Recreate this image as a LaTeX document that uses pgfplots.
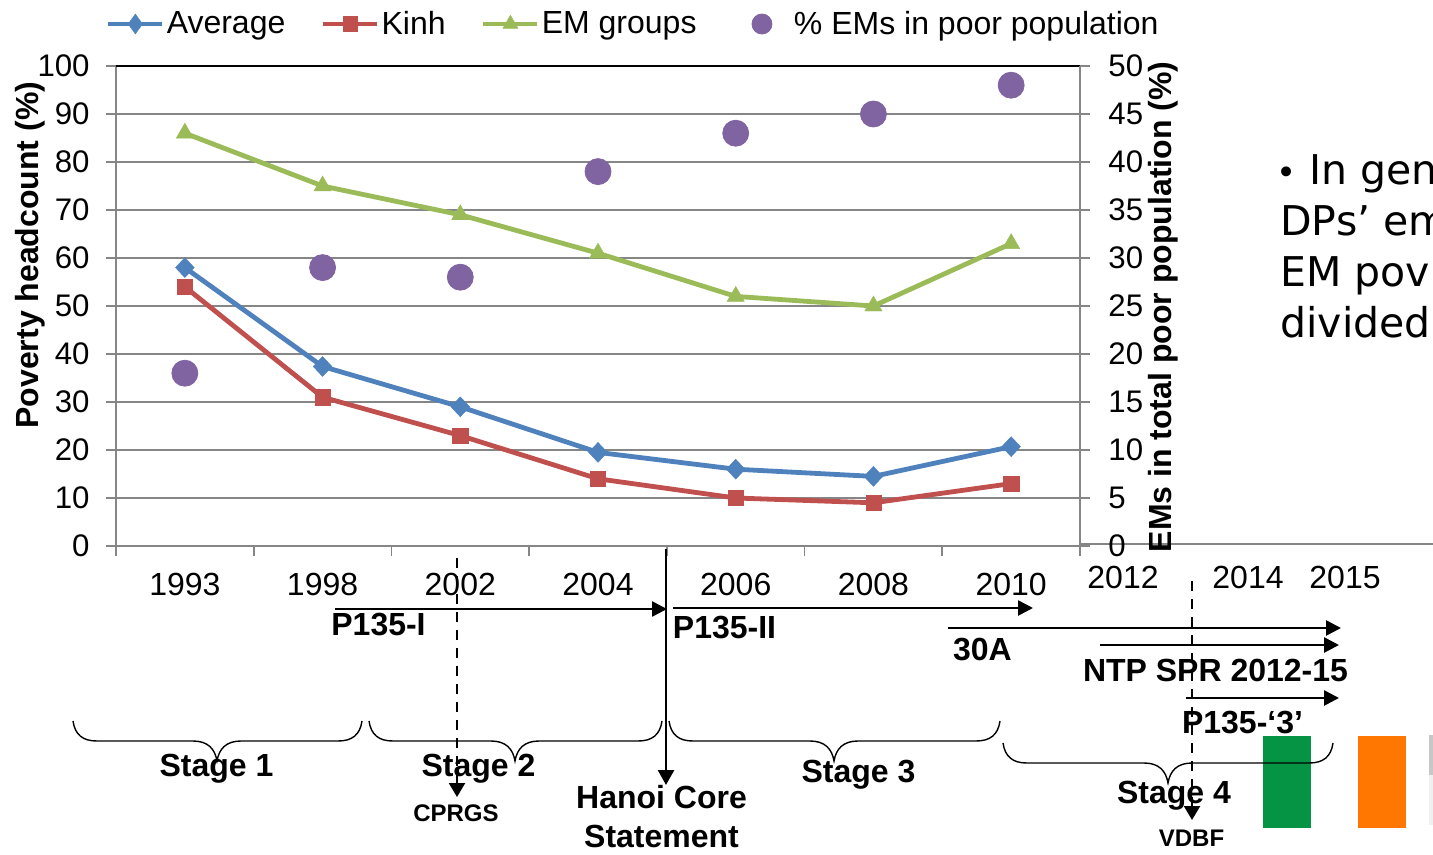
\documentclass[border=0pt]{standalone}
\usepackage{pgfplots}
\pgfplotsset{compat=1.18}
\usepackage{fontspec}
\setmainfont{Liberation Sans}
\newfontfamily\verd{DejaVu Sans}
\usetikzlibrary{arrows.meta}
\definecolor{cblue}{HTML}{4F81BD}
\definecolor{cred}{HTML}{C0504D}
\definecolor{cgreen}{HTML}{9BBB59}
\definecolor{cpurple}{HTML}{8064A2}
\definecolor{axgrey}{HTML}{868686}
\definecolor{flaggreen}{HTML}{049444}
\definecolor{flagorange}{HTML}{FF7700}
\newcommand{\fs}{\fontsize{16}{19}\selectfont}
\newcommand{\fy}{\fontsize{15.6}{18}\selectfont}
\newcommand{\fb}{\fontsize{16}{19}\selectfont\bfseries}
\pgfplotstableread{
idx avg kinh em share
0 58 54 86 18
1 37.4 31 75 29
2 29 23 69 28
3 19.5 14 61 39
4 16 10 52 43
5 14.5 9 50 45
6 20.7 13 63 48
}\povdata
\pgfplotsset{
  common/.style={
    at={(58pt,-273pt)}, anchor=south west,
    scale only axis, width=482pt, height=240pt,
    xmin=-0.5, xmax=6.5,
    /pgf/number format/assume math mode=true,
    tick align=outside,
    major tick length=5pt,
    tick style={axgrey,line width=0.9pt},
    clip=false,
  },
  legend image code/.code={
    \draw[mark repeat=2,mark phase=2,#1] plot coordinates {(0pt,0pt)(13.5pt,0pt)(27pt,0pt)};
  },
  dotlegend/.style={
    legend image code/.code={
      \path[draw=none,fill=none] (0pt,-1pt) rectangle (27pt,1pt);
      \draw[##1] plot coordinates {(15pt,0pt)};
    }
  },
}
\begin{document}
\begin{tikzpicture}
\useasboundingbox (0pt,0pt) rectangle (716.5pt,-427.5pt);
\begin{scope}[x=0.5pt,y=-0.5pt]
\fill[flaggreen] (1263,736) rectangle (1311,828);
\fill[flagorange] (1358,736) rectangle (1406,828);
\fill[black!22] (1429,735) rectangle (1433,775);
\fill[black!6] (1429,775) rectangle (1433,825);
\draw[axgrey,line width=0.9pt] (1080,544) -- (1433,544);
\begin{scope}
\clip (1240,100) rectangle (1433,855);
\node[anchor=base west,inner sep=0pt,font=\verd\fontsize{20.5}{24}\selectfont] at (1276,184.5) {{\fontsize{17}{20}\selectfont •}\hspace{6.5pt}In gen};
\node[anchor=base west,inner sep=0pt,font=\verd\fontsize{20.5}{24}\selectfont] at (1280,235.5) {DPs’ em};
\node[anchor=base west,inner sep=0pt,font=\verd\fontsize{20.5}{24}\selectfont] at (1280,286.5) {EM pov};
\node[anchor=base west,inner sep=0pt,font=\verd\fontsize{20.5}{24}\selectfont] at (1280,337.5) {divided};
\end{scope}
\end{scope}

\begin{axis}[common,
  ymin=0, ymax=100, ytick={0,10,...,100},
  yticklabel style={font=\fy,inner sep=0pt,xshift=-8pt},
  xtick={-0.5,0.5,...,6.5},
  xticklabels={1993,1998,2002,2004,2006,2008,2010},
  x tick label as interval,
  xtick pos=bottom, ytick pos=left,
  xticklabel style={font=\fs,yshift=-5pt},
  ymajorgrids,
  xmajorgrids=false,
  grid style={axgrey,line width=0.9pt},
  axis line style={axgrey,line width=1pt},
  ylabel={Poverty headcount (\%)},
  every axis y label/.style={at={(axis description cs:-0.089,0.606)},rotate=90,anchor=center,font=\fb},
]
\addplot[cgreen,line width=2.4pt,mark=triangle*,mark size=5pt,mark options={line width=0.2pt}] table[x=idx,y=em]{\povdata};
\addplot[cred,line width=2.4pt,mark=square*,mark size=3.8pt,mark options={line width=0.2pt}] table[x=idx,y=kinh]{\povdata};
\addplot[cblue,line width=2.4pt,mark=diamond*,mark size=5pt,mark options={xscale=1.25,line width=0.2pt}] table[x=idx,y=avg]{\povdata};
\draw[black,line width=1.1pt] (rel axis cs:0,1) -- (rel axis cs:1,1);
\end{axis}

\begin{axis}[common,
  ymin=0, ymax=50, ytick={0,5,...,50},
  yticklabel style={font=\fy,inner sep=0pt,xshift=9pt},
  axis x line=none,
  axis y line*=right,
  axis line style={axgrey,line width=1pt,-},
  ylabel={EMs in total poor population (\%)},
  every axis y label/.style={at={(axis description cs:1.0860,0.498)},rotate=90,anchor=center,font=\fb},
  legend columns=4,
  legend cell align=left,
  legend style={at={(axis description cs:-0.0104,1.0875)},anchor=west,draw=none,fill=none,
    font=\fs,inner sep=0pt,outer sep=0pt,
    nodes={inner sep=0pt,outer sep=0pt},
    /tikz/every odd column/.append style={column sep=1pt},
    /tikz/every even column/.append style={column sep=17.7pt}},
]
\addlegendimage{cblue,line width=2.4pt,mark=diamond*,mark size=5pt,mark options={xscale=0.95,line width=0.2pt}}
\addlegendentry{Average}
\addlegendimage{cred,line width=2.4pt,mark=square*,mark size=3.7pt,mark options={line width=0.2pt}}
\addlegendentry{Kinh}
\addlegendimage{cgreen,line width=2.4pt,mark=triangle*,mark size=4.4pt,mark options={line width=0.2pt}}
\addlegendentry{EM groups}
\addlegendimage{dotlegend,only marks,mark=*,mark size=5pt,cpurple}
\addlegendentry{\hspace{3pt}\% EMs in poor population}
\addplot[forget plot,only marks,mark=*,mark size=6.5pt,cpurple] table[x=idx,y=share]{\povdata};
\end{axis}

\begin{scope}[x=0.5pt,y=-0.5pt,
  harrow/.style={line width=1.3pt,black,-{Triangle[length=7.5pt,width=7.5pt]}},
  brace/.style={black,line width=0.7pt},
  lab/.style={anchor=base,inner sep=0pt,font=\fb},
  small/.style={anchor=base,inner sep=0pt,font=\fontsize{12}{14}\selectfont\bfseries},
  yr/.style={anchor=base,inner sep=0pt,font=\fs}]
\node[yr] at (1123,588) {2012};
\node[yr] at (1248,588) {2014};
\node[yr] at (1345,588) {2015};
% arrows
\draw[harrow] (335,609) -- (667,609);
\draw[harrow] (673,608) -- (1033,608);
\draw[harrow] (948,628) -- (1341,628);
\draw[harrow] (1100,645) -- (1339,645);
\draw[harrow] (1186,698) -- (1339,698);
% verticals
\draw[black,line width=1.1pt,dash pattern=on 5pt off 4pt] (457,558) -- (457,785);
\draw[black,line width=1.1pt,-{Triangle[length=7pt,width=8pt]}] (457,783) -- (457,797);
\draw[black,line width=1.1pt,dash pattern=on 5pt off 4pt] (1192,581) -- (1192,805);
\draw[black,line width=1.1pt,-{Triangle[length=7pt,width=8pt]}] (1192,804) -- (1192,820);
\draw[black,line width=1.3pt,-{Triangle[length=7.5pt,width=8pt]}] (666,549) -- (666,785);
% braces
\foreach \a/\t/\b/\yo in {73/217/362/721, 369/515/662/721, 669/834/1000/721, 1003/1168/1333/743}{
  \pgfmathsetmacro\yf{\yo+20}
  \pgfmathsetmacro\yt{\yo+40}
  \draw[brace] (\a,\yo) .. controls (\a+2,\yf-6) and (\a+10,\yf) .. (\a+24,\yf)
     -- (\t-24,\yf) .. controls (\t-9,\yf) and (\t-2,\yf+8) .. (\t,\yt)
     .. controls (\t+2,\yf+8) and (\t+9,\yf) .. (\t+24,\yf)
     -- (\b-24,\yf) .. controls (\b-10,\yf) and (\b-2,\yf-6) .. (\b,\yo);
}
% labels
\node[lab] at (378.5,635) {P135-I};
\node[lab] at (724.5,638) {P135-II};
\node[lab] at (982.5,660) {30A};
\node[lab] at (1215.5,681) {NTP SPR 2012-15};
\node[lab] at (1242.5,733) {P135-‘3’};
\node[lab] at (216.5,776) {Stage 1};
\node[lab] at (478.5,776) {Stage 2};
\node[lab] at (858.5,782) {Stage 3};
\node[lab] at (1174,803) {Stage 4};
\node[lab] at (661.5,808) {Hanoi Core};
\node[lab] at (661.5,847) {Statement};
\node[small] at (456,821) {CPRGS};
\node[small] at (1191.5,846) {VDBF};
\end{scope}
\end{tikzpicture}
\end{document}
